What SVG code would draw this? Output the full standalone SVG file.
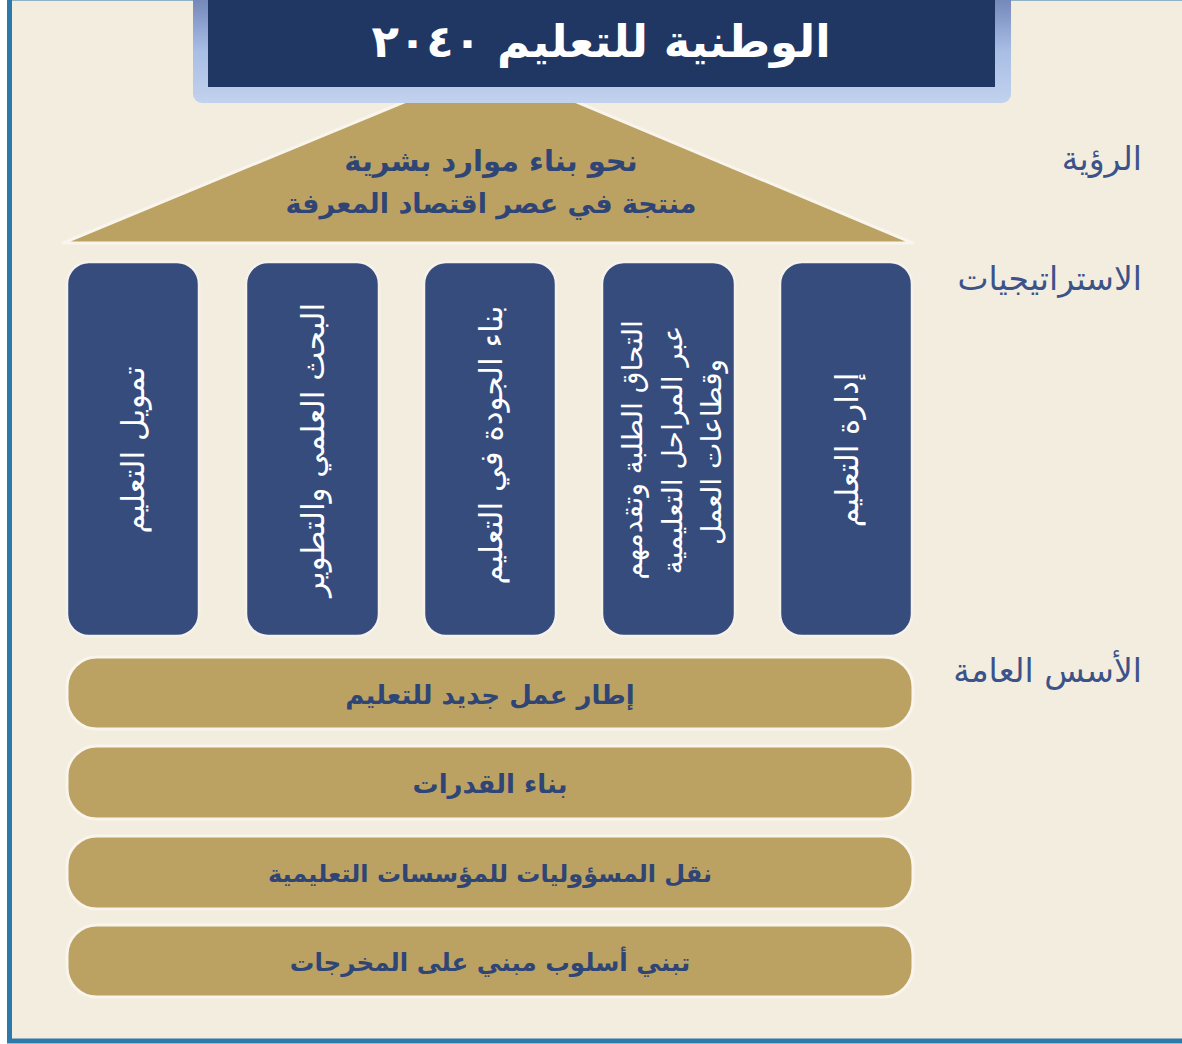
<svg xmlns="http://www.w3.org/2000/svg" width="1182" height="1044" viewBox="0 0 1182 1044">
  <defs>
    <linearGradient id="hdrGrad" x1="0" y1="0" x2="0" y2="1">
      <stop offset="0" stop-color="#687cb0"/>
      <stop offset="0.55" stop-color="#a9bee5"/>
      <stop offset="1" stop-color="#c2d2ee"/>
    </linearGradient>
    <style>
      .pillar { fill: #354c7d; stroke: #f6f2ea; stroke-width: 2.5; }
      .bar { fill: #bba263; stroke: #f9f5ec; stroke-width: 3; }
      .ptext { font-family: "DejaVu Sans", sans-serif; font-size: 31px; fill: #ffffff; text-anchor: middle; }
      .btext { font-family: "DejaVu Sans", sans-serif; font-size: 26px; font-weight: bold; fill: #2f4576; text-anchor: middle; }
      .label { font-family: "DejaVu Sans", sans-serif; font-size: 33px; fill: #3c538a; text-anchor: end; }
    </style>
  </defs>

  <!-- background & frame -->
  <rect x="0" y="0" width="1182" height="1044" fill="#ffffff"/>
  <rect x="9.5" y="-2" width="1200" height="1043" fill="#f3ede0" stroke="#2c7aa9" stroke-width="5"/>

  <!-- roof / vision -->
  <g id="vision">
    <polygon points="491,66 913,243 63,243" fill="#bba263" stroke="#f9f5ec" stroke-width="3" stroke-linejoin="round"/>
    <text class="btext" x="491" y="171" style="font-size:29px">نحو بناء موارد بشرية</text>
    <text class="btext" x="491" y="213" style="font-size:27px">منتجة في عصر اقتصاد المعرفة</text>
  </g>

  <!-- header -->
  <g id="header">
    <rect x="193" y="-12" width="818" height="115" rx="9" fill="url(#hdrGrad)"/>
    <rect x="208" y="-5" width="787" height="92" fill="#203763"/>
    <text x="601" y="57" direction="rtl" font-family="DejaVu Sans, sans-serif" font-size="45" font-weight="bold" fill="#ffffff" text-anchor="middle">الوطنية للتعليم ٢٠٤٠</text>
  </g>

  <!-- pillars -->
  <g id="pillar-1">
    <rect class="pillar" x="67" y="262" width="132" height="374" rx="22"/>
    <text class="ptext" transform="translate(144,450) rotate(-90)">تمويل التعليم</text>
  </g>
  <g id="pillar-2">
    <rect class="pillar" x="246" y="262" width="133" height="374" rx="22"/>
    <text class="ptext" transform="translate(324,450) rotate(-90)">البحث العلمي والتطوير</text>
  </g>
  <g id="pillar-3">
    <rect class="pillar" x="424" y="262" width="132" height="374" rx="22"/>
    <text class="ptext" transform="translate(502,445) rotate(-90)">بناء الجودة في التعليم</text>
  </g>
  <g id="pillar-4">
    <rect class="pillar" x="602" y="262" width="133" height="374" rx="22"/>
    <text class="ptext" style="font-size:28px" transform="translate(642,450) rotate(-90)">التحاق الطلبة وتقدمهم</text>
    <text class="ptext" style="font-size:28px" transform="translate(682,450) rotate(-90)">عبر المراحل التعليمية</text>
    <text class="ptext" style="font-size:28px" transform="translate(721,452) rotate(-90)">وقطاعات العمل</text>
  </g>
  <g id="pillar-5">
    <rect class="pillar" x="780" y="262" width="132" height="374" rx="22"/>
    <text class="ptext" transform="translate(858,450) rotate(-90)">إدارة التعليم</text>
  </g>

  <!-- foundations -->
  <g id="base-1">
    <rect class="bar" x="67" y="657" width="846" height="72" rx="30"/>
    <text class="btext" x="490" y="704">إطار عمل جديد للتعليم</text>
  </g>
  <g id="base-2">
    <rect class="bar" x="67" y="746" width="846" height="73" rx="30"/>
    <text class="btext" x="490" y="793">بناء القدرات</text>
  </g>
  <g id="base-3">
    <rect class="bar" x="67" y="836" width="846" height="73" rx="30"/>
    <text class="btext" x="490" y="882" style="font-size:24px">نقل المسؤوليات للمؤسسات التعليمية</text>
  </g>
  <g id="base-4">
    <rect class="bar" x="67" y="925" width="846" height="72" rx="30"/>
    <text class="btext" x="490" y="971" style="font-size:24.5px">تبني أسلوب مبني على المخرجات</text>
  </g>

  <!-- side labels -->
  <g id="label-vision"><text class="label" x="1142" y="170">الرؤية</text></g>
  <g id="label-strategies"><text class="label" x="1142" y="290">الاستراتيجيات</text></g>
  <g id="label-foundations"><text class="label" x="1142" y="682">الأسس العامة</text></g>

  <g id="connectors"/>
</svg>
